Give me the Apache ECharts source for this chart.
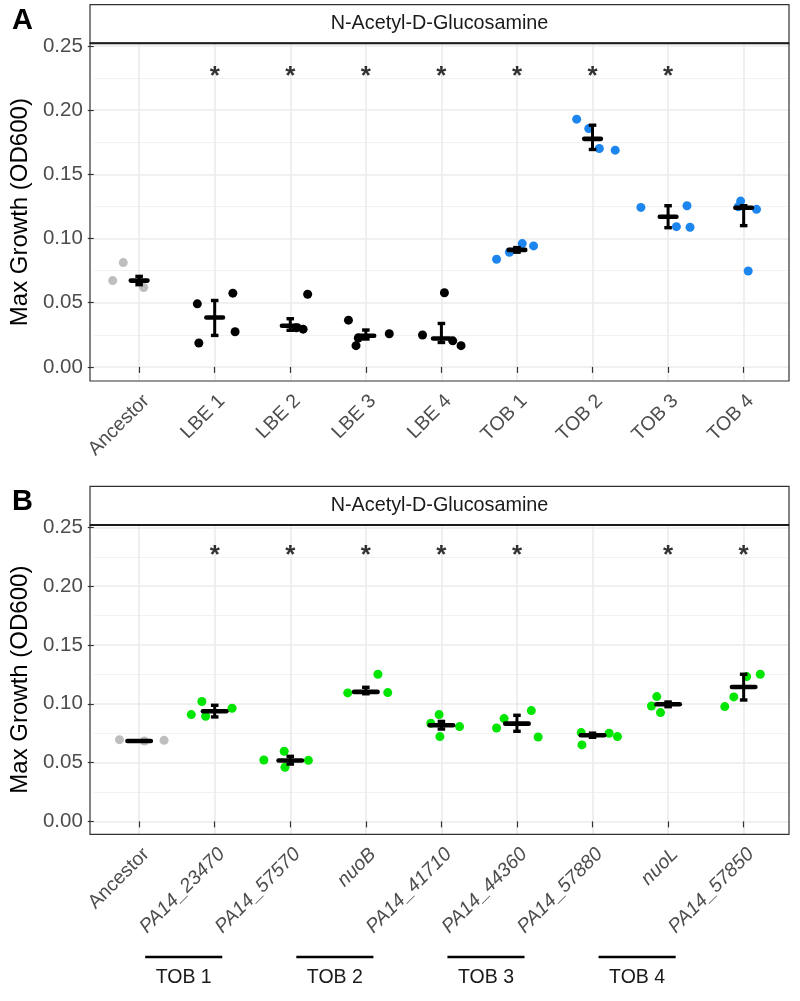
<!DOCTYPE html>
<html><head><meta charset="utf-8">
<script src="https://cdn.jsdelivr.net/npm/echarts@6/dist/echarts.min.js"></script>
<style>html,body{margin:0;padding:0;background:#fff}#c{width:800px;height:1001px}</style>
</head><body><div id="c"></div>
<script>
// ---------- DATA ----------
const stripTitle = 'N-Acetyl-D-Glucosamine';
const yTicks = [0, 0.05, 0.10, 0.15, 0.20, 0.25];
const yMinorTicks = [0.025, 0.075, 0.125, 0.175, 0.225];
const catTicks = [1, 2, 3, 4, 5, 6, 7, 8, 9];

// Panel A
const categoriesA = ['Ancestor', 'LBE 1', 'LBE 2', 'LBE 3', 'LBE 4', 'TOB 1', 'TOB 2', 'TOB 3', 'TOB 4'];
const groupA = ['anc', 'lbe', 'lbe', 'lbe', 'lbe', 'tob', 'tob', 'tob', 'tob'];
const valuesA = [
  [0.0672, 0.0812, 0.0618],
  [0.0491, 0.0186, 0.0574, 0.0274],
  [0.0566, 0.0294, 0.0305],
  [0.0364, 0.0165, 0.0225, 0.0258],
  [0.0248, 0.0577, 0.0203, 0.0165],
  [0.0838, 0.0893, 0.0960, 0.0942],
  [0.1929, 0.1856, 0.1701, 0.1688],
  [0.1242, 0.1255, 0.1092, 0.1087],
  [0.1291, 0.1247, 0.1227, 0.0747]
];
const jitterA = [
  [-0.35, -0.21, 0.06],
  [-0.23, -0.21, 0.24, 0.27],
  [0.23, 0.17, 0.08],
  [-0.23, -0.13, -0.10, 0.31],
  [-0.25, 0.04, 0.15, 0.26],
  [-0.27, -0.10, 0.07, 0.22],
  [-0.21, -0.05, 0.09, 0.30],
  [-0.36, 0.25, 0.11, 0.29],
  [-0.04, -0.07, 0.17, 0.06]
];
const meanA = [0.0672, 0.0385, 0.0320, 0.0242, 0.0221, 0.0911, 0.1776, 0.1169, 0.1239];
const lowA  = [0.0640, 0.0245, 0.0285, 0.0217, 0.0190, 0.0893, 0.1693, 0.1084, 0.1100];
const highA = [0.0705, 0.0517, 0.0375, 0.0287, 0.0338, 0.0929, 0.1882, 0.1255, 0.1255];
const starsA = ['LBE 1', 'LBE 2', 'LBE 3', 'LBE 4', 'TOB 1', 'TOB 2', 'TOB 3'];

// Panel B
const categoriesB = ['Ancestor', 'PA14_23470', 'PA14_57570', 'nuoB', 'PA14_41710', 'PA14_44360', 'PA14_57880', 'nuoL', 'PA14_57850'];
const italicB = [false, true, true, true, true, true, true, true, true];
const groupB = ['anc', 'mut', 'mut', 'mut', 'mut', 'mut', 'mut', 'mut', 'mut'];
const valuesB = [
  [0.0695, 0.0689, 0.0683],
  [0.0908, 0.1019, 0.0894, 0.0962],
  [0.0522, 0.0596, 0.0460, 0.0519],
  [0.1092, 0.1251, 0.1095],
  [0.0834, 0.0908, 0.0721, 0.0806],
  [0.0794, 0.0874, 0.0942, 0.0717],
  [0.0755, 0.0650, 0.0749, 0.0721],
  [0.0981, 0.1061, 0.0925],
  [0.0976, 0.1058, 0.1231, 0.1251]
];
const jitterB = [
  [-0.26, 0.33, 0.07],
  [-0.31, -0.17, -0.12, 0.23],
  [-0.35, -0.08, -0.07, 0.24],
  [-0.24, 0.16, 0.29],
  [-0.14, -0.03, -0.02, 0.24],
  [-0.27, -0.17, 0.19, 0.28],
  [-0.15, -0.14, 0.22, 0.33],
  [-0.22, -0.15, -0.10],
  [-0.25, -0.13, 0.04, 0.22]
];
const meanB = [0.0683, 0.0936, 0.0517, 0.1101, 0.0817, 0.0831, 0.0732, 0.0996, 0.1143];
const lowB  = [0.0683, 0.0888, 0.0487, 0.1085, 0.0785, 0.0766, 0.0715, 0.0975, 0.1032];
const highB = [0.0683, 0.0987, 0.0553, 0.1140, 0.0850, 0.0902, 0.0750, 0.1015, 0.1251];
const starsB = ['PA14_23470', 'PA14_57570', 'nuoB', 'PA14_41710', 'PA14_44360', 'nuoL', 'PA14_57850'];

const starValue = 0.226;
const tobGroups = ['TOB 1', 'TOB 2', 'TOB 3', 'TOB 4'];
const tobGroupCenters = [1.59, 3.59, 5.59, 7.59];
const tobGroupHalfWidth = 0.51;

// ---------- STYLE ----------
const FONT = 'Liberation Sans, Arial, sans-serif';
const colors = { anc: '#BEBEBE', lbe: '#000000', tob: '#1C86EE', mut: '#00E600' };
const Y_MIN = -0.011, Y_MAX = 0.252;

function pointsFor(values, jitter, groups, g) {
  const out = [];
  values.forEach((arr, i) => {
    if (groups[i] !== g) return;
    arr.forEach((v, j) => out.push([i + 1 + jitter[i][j], v]));
  });
  return out;
}
function meanData(mean, low, high) {
  return mean.map((m, i) => [i + 1, m, low[i], high[i]]);
}
function starData(stars, cats) {
  return stars.map(s => [cats.indexOf(s) + 1, starValue]);
}
function meanRenderer(halfW) {
  return function (params, api) {
    const x = api.value(0), m = api.value(1), lo = api.value(2), hi = api.value(3);
    const pl = api.coord([x, lo]), ph = api.coord([x, hi]), pm = api.coord([x, m]);
    const cl = api.coord([x - 0.05, lo]), cr = api.coord([x + 0.05, lo]);
    const bl = api.coord([x - halfW, m]), br = api.coord([x + halfW, m]);
    const children = [];
    if (Math.abs(ph[1] - pl[1]) > 0.5) {
      children.push({ type: 'line', shape: { x1: pl[0], y1: pl[1], x2: ph[0], y2: ph[1] }, style: { stroke: '#000', lineWidth: 3 } });
      children.push({ type: 'line', shape: { x1: cl[0], y1: pl[1], x2: cr[0], y2: pl[1] }, style: { stroke: '#000', lineWidth: 3.4 } });
      children.push({ type: 'line', shape: { x1: cl[0], y1: ph[1], x2: cr[0], y2: ph[1] }, style: { stroke: '#000', lineWidth: 3.4 } });
    }
    children.push({ type: 'line', shape: { x1: bl[0], y1: pm[1], x2: br[0], y2: pm[1] }, style: { stroke: '#000', lineWidth: 4.6, lineCap: 'round' } });
    return { type: 'group', children };
  };
}

function xAxisFor(gridIndex, cats, italics) {
  return {
    type: 'value', gridIndex, min: 0.4, max: 9.6,
    axisLine: { show: false },
    axisTick: { show: true, customValues: catTicks, length: 6, lineStyle: { color: '#333', width: 1.2 } },
    axisLabel: {
      customValues: catTicks, rotate: 45, margin: 10, align: 'right', verticalAlign: 'top',
      fontSize: 19.5, fontFamily: FONT, color: '#4D4D4D',
      formatter: v => {
        const i = Math.round(v) - 1;
        return italics && italics[i] ? '{i|' + cats[i] + '}' : cats[i];
      },
      rich: { i: { fontStyle: 'italic', fontSize: 19.5, fontFamily: FONT, color: '#4D4D4D' } }
    },
    splitLine: { show: true, lineStyle: { color: '#EBEBEB', width: 1.6 } }
  };
}
function yAxisFor(gridIndex) {
  return {
    type: 'value', gridIndex, min: Y_MIN, max: Y_MAX,
    name: 'Max Growth (OD600)', nameLocation: 'middle', nameGap: 53,
    nameTextStyle: { fontSize: 24, fontFamily: FONT, color: '#000' },
    axisLine: { show: false },
    axisTick: { show: true, customValues: yTicks, length: 6, lineStyle: { color: '#333', width: 1.2 } },
    axisLabel: { customValues: yTicks, margin: 11, fontSize: 20.5, fontFamily: FONT, color: '#4D4D4D', formatter: v => v.toFixed(2) },
    splitLine: { show: true, lineStyle: { color: '#EBEBEB', width: 1.6 } }
  };
}
function yMinorFor(gridIndex) {
  return {
    type: 'value', gridIndex, min: Y_MIN, max: Y_MAX, position: 'left',
    axisLine: { show: false },
    axisTick: { show: false, customValues: yMinorTicks },
    axisLabel: { show: false },
    splitLine: { show: true, lineStyle: { color: '#F0F0F0', width: 0.9 } }
  };
}

const GRID_A = { left: 90, top: 43.3, width: 699, height: 337.7 };
const GRID_B = { left: 90, top: 525, width: 699, height: 309.3 };

const chart = echarts.init(document.getElementById('c'), null, { renderer: 'canvas' });
const starLabel = { show: true, position: 'inside', formatter: '*', fontSize: 26, fontWeight: 'bold', fontFamily: FONT, color: '#000' };

chart.setOption({
  animation: false,
  backgroundColor: '#fff',
  grid: [
    Object.assign({ containLabel: false }, GRID_A),
    Object.assign({ containLabel: false }, GRID_B)
  ],
  xAxis: [xAxisFor(0, categoriesA, null), xAxisFor(1, categoriesB, italicB)],
  yAxis: [yAxisFor(0), yMinorFor(0), yAxisFor(1), yMinorFor(1)],
  series: [
    { type: 'scatter', xAxisIndex: 0, yAxisIndex: 0, symbolSize: 9, itemStyle: { color: colors.anc, opacity: 1 }, data: pointsFor(valuesA, jitterA, groupA, 'anc'), z: 2 },
    { type: 'scatter', xAxisIndex: 0, yAxisIndex: 0, symbolSize: 9, itemStyle: { color: colors.lbe, opacity: 1 }, data: pointsFor(valuesA, jitterA, groupA, 'lbe'), z: 2 },
    { type: 'scatter', xAxisIndex: 0, yAxisIndex: 0, symbolSize: 9, itemStyle: { color: colors.tob, opacity: 1 }, data: pointsFor(valuesA, jitterA, groupA, 'tob'), z: 2 },
    { type: 'custom', xAxisIndex: 0, yAxisIndex: 0, renderItem: meanRenderer(0.11), data: meanData(meanA, lowA, highA), encode: { x: 0, y: 1 }, z: 3 },
    { type: 'scatter', xAxisIndex: 0, yAxisIndex: 0, symbolSize: 1, itemStyle: { color: 'rgba(0,0,0,0)' }, label: starLabel, data: starData(starsA, categoriesA), z: 4 },

    { type: 'scatter', xAxisIndex: 1, yAxisIndex: 2, symbolSize: 9, itemStyle: { color: colors.anc, opacity: 1 }, data: pointsFor(valuesB, jitterB, groupB, 'anc'), z: 2 },
    { type: 'scatter', xAxisIndex: 1, yAxisIndex: 2, symbolSize: 9, itemStyle: { color: colors.mut, opacity: 1 }, data: pointsFor(valuesB, jitterB, groupB, 'mut'), z: 2 },
    { type: 'custom', xAxisIndex: 1, yAxisIndex: 2, renderItem: meanRenderer(0.155), data: meanData(meanB, lowB, highB), encode: { x: 0, y: 1 }, z: 3 },
    { type: 'scatter', xAxisIndex: 1, yAxisIndex: 2, symbolSize: 1, itemStyle: { color: 'rgba(0,0,0,0)' }, label: starLabel, data: starData(starsB, categoriesB), z: 4 }
  ]
});

// ---------- decorations: strips, borders, panel letters, group bars ----------
const graphics = [];
function panelDeco(g, letter, letterY) {
  const stripH = 38.6;
  graphics.push({ type: 'rect', z: 100, shape: { x: g.left, y: g.top - stripH, width: g.width, height: stripH }, style: { fill: '#fff', stroke: '#333', lineWidth: 1.2 } });
  graphics.push({ type: 'text', z: 101, x: g.left + g.width / 2, y: g.top - stripH / 2, style: { text: stripTitle, fontSize: 19.8, fontFamily: FONT, fill: '#1A1A1A', textAlign: 'center', textVerticalAlign: 'middle' } });
  graphics.push({ type: 'rect', z: 100, shape: { x: g.left, y: g.top, width: g.width, height: g.height }, style: { fill: 'none', stroke: '#333', lineWidth: 1.2 } });
  graphics.push({ type: 'line', z: 101, shape: { x1: g.left, y1: g.top, x2: g.left + g.width, y2: g.top }, style: { stroke: '#1A1A1A', lineWidth: 2 } });
  graphics.push({ type: 'text', z: 101, x: 12, y: letterY, style: { text: letter, fontSize: 29, fontWeight: 'bold', fontFamily: FONT, fill: '#000', textAlign: 'left', textVerticalAlign: 'top' } });
}
panelDeco(GRID_A, 'A', 6);
panelDeco(GRID_B, 'B', 487);

tobGroups.forEach((name, i) => {
  const x1 = chart.convertToPixel({ xAxisIndex: 1 }, tobGroupCenters[i] - tobGroupHalfWidth);
  const x2 = chart.convertToPixel({ xAxisIndex: 1 }, tobGroupCenters[i] + tobGroupHalfWidth);
  const xc = chart.convertToPixel({ xAxisIndex: 1 }, tobGroupCenters[i]);
  graphics.push({ type: 'line', z: 101, shape: { x1, y1: 957, x2, y2: 957 }, style: { stroke: '#000', lineWidth: 2.4 } });
  graphics.push({ type: 'text', z: 101, x: xc, y: 978, style: { text: name, fontSize: 19.5, fontFamily: FONT, fill: '#1A1A1A', textAlign: 'center', textVerticalAlign: 'middle' } });
});
chart.setOption({ graphic: graphics });
</script>
</body></html>
